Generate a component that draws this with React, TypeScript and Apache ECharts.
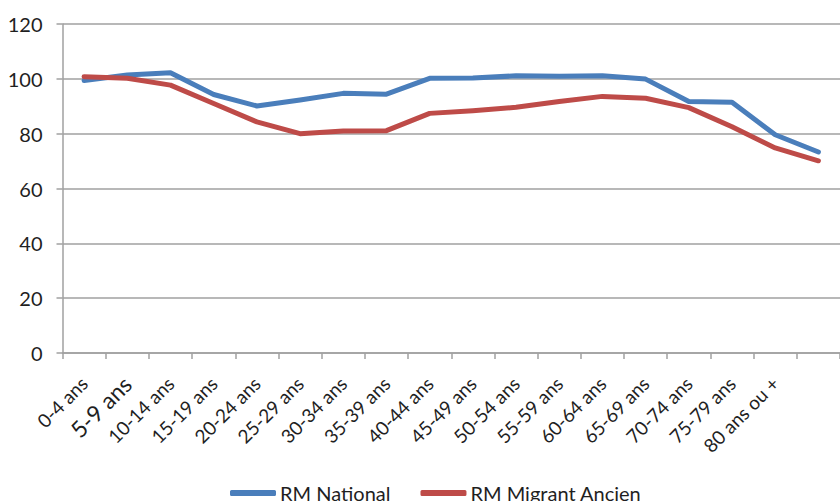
import React, { useEffect, useRef } from "react";
import * as echarts from "echarts";

const categories = [
  "0-4 ans", "5-9 ans", "10-14 ans", "15-19 ans", "20-24 ans", "25-29 ans",
  "30-34 ans", "35-39 ans", "40-44 ans", "45-49 ans", "50-54 ans", "55-59 ans",
  "60-64 ans", "65-69 ans", "70-74 ans", "75-79 ans", "80 ans ou +", "",
];
const rmNational = [
  99.4, 101.4, 102.2, 94.3, 90.1, 92.3, 94.7, 94.4, 100.2, 100.3, 101.1, 100.9,
  101.1, 99.9, 91.7, 91.5, 79.6, 73.3,
];
const rmMigrantAncien = [
  100.8, 100.2, 97.7, 91.0, 84.3, 80.0, 81.0, 81.1, 87.4, 88.4, 89.6, 91.7,
  93.6, 92.9, 89.5, 82.5, 74.8, 70.1,
];
const yTicks = { min: 0, max: 120, interval: 20 };

const FONT = "Lato, 'Liberation Sans', sans-serif";
const BLUE = "#4a7ebb";
const RED = "#be4b48";
const GRID = "#a0a0a0";
const TEXT = "#1f1f1f";

export default function App() {
  const ref = useRef<HTMLDivElement>(null);
  useEffect(() => {
    if (!ref.current) return;
    const chart = echarts.init(ref.current, null, { renderer: "svg" });
    chart.setOption({
      animation: false,
      backgroundColor: "#ffffff",
      textStyle: { fontFamily: FONT },
      grid: { left: 62.5, top: 24, width: 787.5, height: 329, containLabel: false },
      legend: {
        data: ["RM National", "RM Migrant Ancien"],
        left: 230,
        top: 483,
        padding: 0,
        icon: "roundRect",
        itemWidth: 46,
        itemHeight: 6,
        itemGap: 30,
        textStyle: { fontFamily: FONT, fontSize: 20, color: TEXT, padding: [0, 0, 0, -1] },
      },
      xAxis: {
        type: "category",
        data: categories,
        boundaryGap: true,
        axisLine: { show: true, lineStyle: { color: GRID, width: 1.5 } },
        axisTick: { show: true, length: 6, alignWithLabel: false, interval: 0, lineStyle: { color: GRID, width: 1.5 } },
        axisLabel: {
          interval: 0,
          rotate: 45,
          margin: 27,
          color: TEXT,
          fontFamily: FONT,
          fontSize: 19,
          formatter: (v: string) => (v === "5-9 ans" ? "{big|" + v + "}" : v),
          rich: { big: { fontSize: 23, fontFamily: FONT, color: TEXT } },
        },
        splitLine: { show: false },
      },
      yAxis: {
        type: "value",
        min: yTicks.min,
        max: yTicks.max,
        interval: yTicks.interval,
        axisLine: { show: true, lineStyle: { color: GRID, width: 1.5 } },
        axisTick: { show: true, length: 6, lineStyle: { color: GRID, width: 1.5 } },
        axisLabel: { color: TEXT, fontFamily: FONT, fontSize: 20, margin: 20 },
        splitLine: { show: true, lineStyle: { color: GRID, width: 1.5 } },
      },
      series: [
        {
          name: "RM National",
          type: "line",
          data: rmNational,
          symbol: "none",
          color: BLUE,
          lineStyle: { color: BLUE, width: 5, cap: "round", join: "round" },
        },
        {
          name: "RM Migrant Ancien",
          type: "line",
          data: rmMigrantAncien,
          symbol: "none",
          color: RED,
          lineStyle: { color: RED, width: 5, cap: "round", join: "round" },
        },
      ],
    });
    return () => chart.dispose();
  }, []);
  return (
    <div
      ref={ref}
      style={{ position: "fixed", left: 0, top: 0, width: 840, height: 501, background: "#fff" }}
    />
  );
}
